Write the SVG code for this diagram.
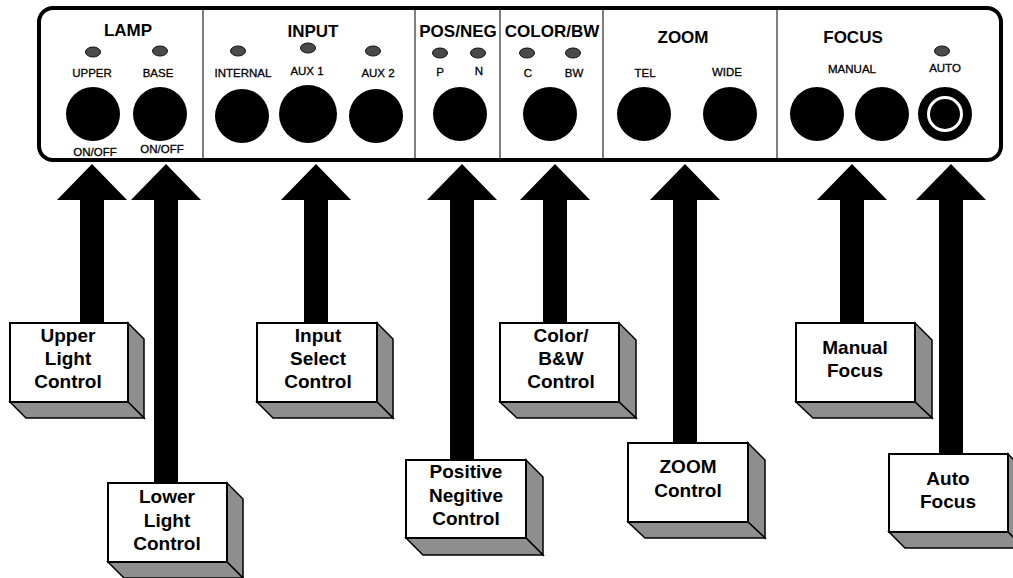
<svg xmlns="http://www.w3.org/2000/svg" width="1013" height="578" viewBox="0 0 1013 578">
<style>
.head{font-family:"Liberation Sans",Arial,sans-serif;font-weight:bold;font-size:17px;text-anchor:middle;fill:#000}
.lbl{font-family:"Liberation Sans",Arial,sans-serif;font-size:11.5px;text-anchor:middle;fill:#000;stroke:#000;stroke-width:0.3}
.btxt{font-family:"Liberation Sans",Arial,sans-serif;font-weight:bold;font-size:19px;text-anchor:middle;fill:#000}
.knob{fill:#000}
.led{fill:#4a4a4a;stroke:#111;stroke-width:1}
.div{stroke:#555;stroke-width:1.5}
.front{fill:#fff;stroke:#000;stroke-width:2}
.shade{fill:#8e8e8e;stroke:#000;stroke-width:1.5}
.arrow{fill:#000}
</style>
<rect width="1013" height="578" fill="#fff"/>
<g id="panel">
<rect x="39" y="8" width="962" height="152" rx="14" fill="#fff" stroke="#000" stroke-width="4"/>
<line class="div" x1="203" y1="10" x2="203" y2="158"/>
<line class="div" x1="415" y1="10" x2="415" y2="158"/>
<line class="div" x1="500" y1="10" x2="500" y2="158"/>
<line class="div" x1="603" y1="10" x2="603" y2="158"/>
<line class="div" x1="777" y1="10" x2="777" y2="158"/>
</g>
<g id="lamp">
<text class="head" x="128" y="36">LAMP</text>
<ellipse class="led" cx="93" cy="52" rx="7.5" ry="5"/>
<ellipse class="led" cx="160" cy="51" rx="7.5" ry="5"/>
<text class="lbl" x="92" y="77">UPPER</text>
<text class="lbl" x="158" y="77">BASE</text>
<circle class="knob" cx="93" cy="114" r="27"/>
<circle class="knob" cx="160" cy="114" r="27"/>
<text class="lbl" x="95" y="156">ON/OFF</text>
<text class="lbl" x="162" y="153">ON/OFF</text>
</g>
<g id="input">
<text class="head" x="313" y="37">INPUT</text>
<ellipse class="led" cx="238" cy="51" rx="7.5" ry="5"/>
<ellipse class="led" cx="308" cy="48" rx="7.5" ry="5"/>
<ellipse class="led" cx="373" cy="51" rx="7.5" ry="5"/>
<text class="lbl" x="243" y="77">INTERNAL</text>
<text class="lbl" x="307" y="75">AUX 1</text>
<text class="lbl" x="378" y="77">AUX 2</text>
<circle class="knob" cx="242" cy="116" r="27"/>
<circle class="knob" cx="308" cy="114" r="29"/>
<circle class="knob" cx="376" cy="116" r="27"/>
</g>
<g id="posneg">
<text class="head" x="458" y="37">POS/NEG</text>
<ellipse class="led" cx="440" cy="53" rx="7.5" ry="5"/>
<ellipse class="led" cx="478" cy="53" rx="7.5" ry="5"/>
<text class="lbl" x="440" y="76">P</text>
<text class="lbl" x="479" y="75">N</text>
<circle class="knob" cx="460" cy="114" r="27"/>
</g>
<g id="colorbw">
<text class="head" x="552" y="37">COLOR/BW</text>
<ellipse class="led" cx="527" cy="53" rx="7.5" ry="5"/>
<ellipse class="led" cx="573" cy="53" rx="7.5" ry="5"/>
<text class="lbl" x="528" y="77">C</text>
<text class="lbl" x="574" y="77">BW</text>
<circle class="knob" cx="550" cy="114" r="27"/>
</g>
<g id="zoom">
<text class="head" x="683" y="43">ZOOM</text>
<text class="lbl" x="645" y="77">TEL</text>
<text class="lbl" x="727" y="76">WIDE</text>
<circle class="knob" cx="644" cy="114" r="27"/>
<circle class="knob" cx="730" cy="114" r="27"/>
</g>
<g id="focus">
<text class="head" x="853" y="43">FOCUS</text>
<ellipse class="led" cx="942" cy="51" rx="7.5" ry="5"/>
<text class="lbl" x="852" y="73">MANUAL</text>
<text class="lbl" x="945" y="72">AUTO</text>
<circle class="knob" cx="817" cy="114" r="27"/>
<circle class="knob" cx="882" cy="114" r="27"/>
<circle class="knob" cx="945" cy="114" r="27"/>
<circle cx="945" cy="114" r="16.5" fill="none" stroke="#fff" stroke-width="3"/>
</g>
<g id="connectors">
<polygon class="arrow" points="80,323 80,200 57,200 92,164 127,200 104,200 104,323"/>
<polygon class="arrow" points="154,483 154,200 131,200 166,164 201,200 178,200 178,483"/>
<polygon class="arrow" points="304,323 304,200 281,200 316,164 351,200 328,200 328,323"/>
<polygon class="arrow" points="450,460 450,200 427,200 462,164 497,200 474,200 474,460"/>
<polygon class="arrow" points="543,323 543,200 520,200 555,164 590,200 567,200 567,323"/>
<polygon class="arrow" points="673,443 673,200 650,200 685,164 720,200 697,200 697,443"/>
<polygon class="arrow" points="840,323 840,200 817,200 852,164 887,200 864,200 864,323"/>
<polygon class="arrow" points="939,454 939,200 916,200 951,164 986,200 963,200 963,454"/>
</g>
<g id="box-upper">
<polygon class="shade" points="128,323 144,339 144,418 128,402"/>
<polygon class="shade" points="10,402 128,402 144,418 26,418"/>
<rect class="front" x="10" y="323" width="118" height="79"/>
<text class="btxt" x="68" y="342">Upper</text>
<text class="btxt" x="68" y="365">Light</text>
<text class="btxt" x="68" y="388">Control</text>
</g>
<g id="box-lower">
<polygon class="shade" points="227,483 243,499 243,578 227,562"/>
<polygon class="shade" points="108,562 227,562 243,578 124,578"/>
<rect class="front" x="108" y="483" width="119" height="79"/>
<text class="btxt" x="167" y="503">Lower</text>
<text class="btxt" x="167" y="527">Light</text>
<text class="btxt" x="167" y="550">Control</text>
</g>
<g id="box-input">
<polygon class="shade" points="377,323 393,339 393,418 377,402"/>
<polygon class="shade" points="257,402 377,402 393,418 273,418"/>
<rect class="front" x="257" y="323" width="120" height="79"/>
<text class="btxt" x="318" y="342">Input</text>
<text class="btxt" x="318" y="365">Select</text>
<text class="btxt" x="318" y="388">Control</text>
</g>
<g id="box-posneg">
<polygon class="shade" points="526,460 543,477 543,555 526,538"/>
<polygon class="shade" points="406,538 526,538 543,555 423,555"/>
<rect class="front" x="406" y="460" width="120" height="78"/>
<text class="btxt" x="466" y="478">Positive</text>
<text class="btxt" x="466" y="502">Negitive</text>
<text class="btxt" x="466" y="525">Control</text>
</g>
<g id="box-color">
<polygon class="shade" points="619,323 636,340 636,418 619,402"/>
<polygon class="shade" points="500,402 619,402 636,418 517,418"/>
<rect class="front" x="500" y="323" width="119" height="79"/>
<text class="btxt" x="561" y="342">Color/</text>
<text class="btxt" x="561" y="365">B&amp;W</text>
<text class="btxt" x="561" y="388">Control</text>
</g>
<g id="box-zoom">
<polygon class="shade" points="748,443 765,460 765,538 748,522"/>
<polygon class="shade" points="628,522 748,522 765,538 645,538"/>
<rect class="front" x="628" y="443" width="120" height="79"/>
<text class="btxt" x="688" y="473">ZOOM</text>
<text class="btxt" x="688" y="497">Control</text>
</g>
<g id="box-manual">
<polygon class="shade" points="915,323 932,340 932,418 915,402"/>
<polygon class="shade" points="796,402 915,402 932,418 813,418"/>
<rect class="front" x="796" y="323" width="119" height="79"/>
<text class="btxt" x="855" y="354">Manual</text>
<text class="btxt" x="855" y="377">Focus</text>
</g>
<g id="box-auto">
<polygon class="shade" points="1008,454 1024,470 1024,548 1008,532"/>
<polygon class="shade" points="889,532 1008,532 1024,548 905,548"/>
<rect class="front" x="889" y="454" width="119" height="78"/>
<text class="btxt" x="948" y="485">Auto</text>
<text class="btxt" x="948" y="508">Focus</text>
</g>
</svg>
